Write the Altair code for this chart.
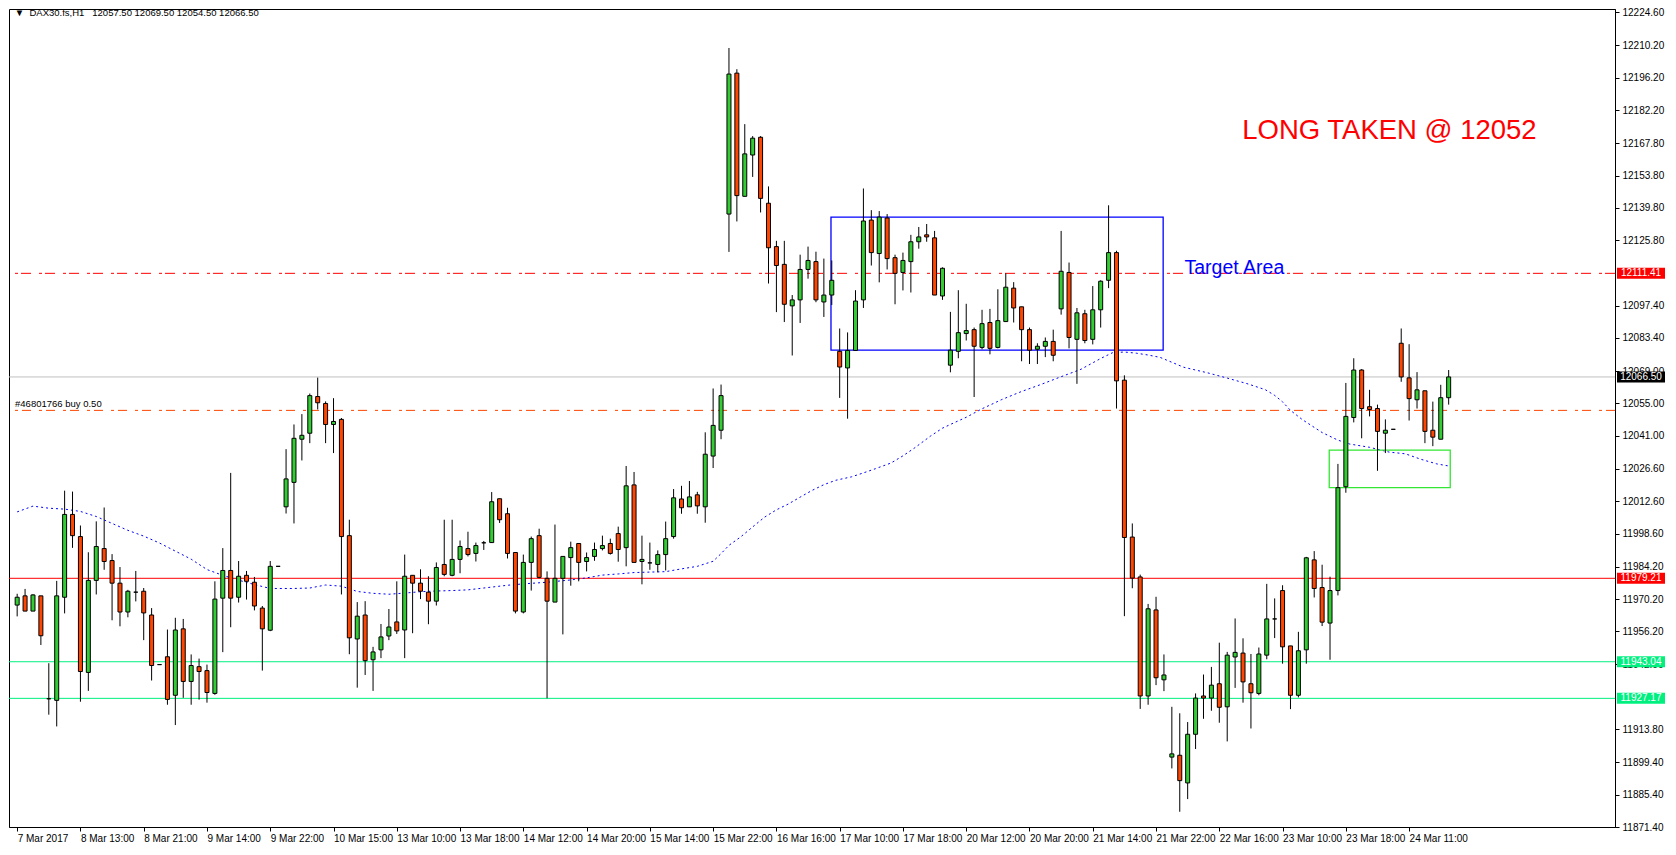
import altair as alt
import pandas as pd

# ---------------- data ----------------
opens = [
    11967.6, 11971.6, 11965.0, 11971.6, 11927.0, 11926.3, 11971.0, 12006.9, 11997.3, 11938.4,
    11978.3, 11992.1, 11986.9, 11977.1, 11964.6, 11973.2, 11973.6, 11963.3, 11941.8, 11945.2,
    11928.5, 11957.3, 11934.5, 11940.9, 11939.2, 11929.3, 11970.6, 11982.6, 11971.0, 11980.5,
    11977.5, 11966.3, 11956.7, 11984.4, 12010.2, 12020.8, 12039.5, 12042.1, 12058.0, 12055.0,
    12045.9, 12048.1, 11997.7, 11952.9, 11963.3, 11943.9, 11948.2, 11954.2, 11960.3, 11956.8,
    11980.5, 11977.1, 11973.2, 11969.3, 11985.2, 11980.5, 11987.4, 11992.1, 11990.0, 11994.6,
    11994.7, 12013.7, 12007.2, 11990.4, 11964.6, 11986.1, 11997.7, 11979.2, 11968.9, 11979.2,
    11988.2, 11994.3, 11986.5, 11988.7, 11992.1, 11994.3, 11998.6, 11992.5, 12019.7, 11986.5,
    11985.9, 11985.2, 11989.5, 11997.3, 12013.6, 12010.2, 12015.4, 12010.2, 12032.2, 12043.4,
    12137.1, 12198.2, 12144.8, 12162.7, 12170.4, 12141.8, 12123.0, 12115.3, 12097.3, 12099.9,
    12113.1, 12116.5, 12099.0, 12102.0, 12077.6, 12070.4, 12078.0, 12099.9, 12134.5, 12120.0,
    12135.4, 12118.2, 12111.8, 12116.5, 12125.1, 12128.1, 12126.8, 12101.6, 12071.6, 12077.6,
    12085.3, 12087.0, 12079.3, 12090.1, 12079.3, 12090.5, 12105.0, 12096.9, 12087.0, 12078.5,
    12079.8, 12081.9, 12096.0, 12111.8, 12082.8, 12093.9, 12082.8, 12095.6, 12108.4, 12120.4,
    12065.1, 11997.1, 11979.8, 11928.2, 11965.5, 11935.2, 11901.7, 11902.5, 11890.5, 11911.6,
    11928.2, 11927.3, 11933.5, 11923.5, 11945.1, 11946.8, 11933.5, 11929.3, 11945.9, 11961.6,
    11973.9, 11949.9, 11928.5, 11948.2, 11987.2, 11975.2, 11959.8, 11973.9, 12018.9, 12048.9,
    12069.5, 12053.6, 12052.8, 12042.1, 12043.8, 12081.1, 12066.1, 12056.6, 12060.5, 12043.4,
    12039.5, 12057.5,
]
highs = [
    11972.5, 11974.6, 11972.3, 11971.6, 11942.4, 11978.1, 12017.2, 12016.8, 12002.1, 11990.5,
    12003.9, 12009.9, 11989.7, 11984.1, 11974.2, 11982.4, 11975.0, 11966.3, 11941.8, 11957.0,
    11962.1, 11961.6, 11946.2, 11944.4, 11941.8, 11977.9, 11992.3, 12024.9, 11986.7, 11982.4,
    11979.8, 11967.2, 11986.7, 11984.4, 12035.2, 12045.9, 12050.4, 12059.3, 12066.2, 12055.9,
    12057.3, 12048.7, 12004.6, 11968.9, 11969.3, 11949.5, 11959.4, 11965.9, 11977.9, 11989.5,
    11980.5, 11983.1, 11980.1, 11986.1, 12004.6, 12004.6, 11995.6, 11999.4, 11994.7, 11995.4,
    12016.6, 12013.7, 12009.8, 11990.4, 11989.5, 11997.3, 12000.7, 11982.2, 12002.5, 11988.7,
    11995.1, 11994.3, 11990.4, 11994.7, 11997.7, 11996.4, 12001.6, 12027.9, 12025.3, 11997.7,
    11994.7, 11991.3, 12003.8, 12017.9, 12019.3, 12021.4, 12016.7, 12042.5, 12061.5, 12063.2,
    12209.1, 12199.9, 12176.1, 12170.9, 12170.9, 12149.1, 12125.5, 12125.5, 12102.0, 12119.5,
    12123.0, 12120.8, 12117.8, 12117.0, 12087.5, 12085.8, 12104.1, 12148.2, 12138.8, 12138.4,
    12137.1, 12119.5, 12120.4, 12128.1, 12131.5, 12132.8, 12129.8, 12114.0, 12094.7, 12104.1,
    12098.2, 12087.9, 12095.6, 12096.0, 12104.5, 12111.4, 12107.6, 12096.9, 12087.9, 12081.1,
    12083.6, 12087.0, 12129.8, 12116.1, 12096.4, 12095.6, 12105.9, 12108.4, 12140.9, 12121.2,
    12067.2, 12003.0, 11980.8, 11968.1, 11971.2, 11946.2, 11923.5, 11920.7, 11916.9, 11929.3,
    11937.5, 11940.8, 11951.3, 11947.3, 11961.8, 11953.2, 11946.4, 11949.2, 11976.8, 11970.5,
    11976.2, 11949.9, 11956.0, 11988.5, 11991.0, 11985.1, 11979.9, 12028.8, 12063.9, 12074.6,
    12069.9, 12060.9, 12054.5, 12048.1, 12043.8, 12087.5, 12080.7, 12068.6, 12060.5, 12055.8,
    12063.1, 12069.5,
]
lows = [
    11962.7, 11965.0, 11965.0, 11950.3, 11920.1, 11915.0, 11964.0, 11992.4, 11925.7, 11930.4,
    11972.2, 11982.9, 11961.0, 11958.4, 11962.3, 11969.2, 11952.4, 11934.9, 11941.8, 11924.4,
    11915.6, 11927.4, 11924.4, 11926.6, 11925.3, 11928.7, 11947.2, 11958.0, 11968.7, 11970.0,
    11965.3, 11939.2, 11956.3, 11984.4, 12007.3, 12003.0, 12030.3, 12037.8, 12052.4, 12037.8,
    12033.5, 11972.2, 11946.3, 11931.8, 11937.3, 11930.4, 11944.6, 11952.4, 11955.1, 11944.6,
    11955.4, 11970.2, 11959.3, 11967.4, 11980.1, 11980.1, 11981.4, 11988.7, 11986.5, 11991.5,
    11994.7, 12003.2, 11987.8, 11964.0, 11964.0, 11973.9, 11979.2, 11927.2, 11968.9, 11954.9,
    11976.0, 11977.9, 11982.2, 11986.8, 11991.3, 11989.5, 11986.4, 11984.4, 11986.1, 11976.6,
    11982.9, 11981.8, 11982.6, 11996.4, 12007.2, 12010.2, 12007.2, 12003.3, 12027.0, 12039.5,
    12120.7, 12133.9, 12144.8, 12153.2, 12137.8, 12107.0, 12094.6, 12090.3, 12075.8, 12089.9,
    12109.1, 12098.9, 12092.5, 12097.7, 12057.4, 12048.4, 12078.0, 12096.4, 12114.8, 12107.5,
    12113.1, 12098.0, 12104.0, 12103.1, 12122.1, 12125.1, 12102.0, 12099.9, 12068.5, 12074.6,
    12082.3, 12057.8, 12078.5, 12076.3, 12078.9, 12090.5, 12090.1, 12073.3, 12072.1, 12072.1,
    12075.1, 12073.3, 12093.5, 12078.9, 12063.5, 12081.1, 12080.6, 12087.9, 12105.0, 12052.8,
    11962.8, 11974.9, 11922.6, 11924.4, 11932.9, 11930.3, 11896.8, 11878.0, 11883.5, 11905.2,
    11918.3, 11921.8, 11916.6, 11908.5, 11931.7, 11925.3, 11914.1, 11928.5, 11944.1, 11953.3,
    11942.2, 11922.5, 11927.6, 11942.2, 11970.9, 11958.5, 11943.9, 11971.8, 12016.3, 12046.8,
    12039.9, 12049.4, 12025.8, 12033.5, 12043.8, 12064.4, 12047.6, 12052.8, 12037.8, 12036.5,
    12039.5, 12054.5,
]
closes = [
    11971.0, 11965.0, 11972.0, 11954.3, 11927.0, 11971.6, 12006.9, 11997.7, 11938.8, 11978.3,
    11993.0, 11986.5, 11977.1, 11964.6, 11973.6, 11973.2, 11964.2, 11941.4, 11941.8, 11926.7,
    11956.8, 11934.5, 11941.4, 11938.8, 11929.7, 11970.2, 11982.6, 11970.6, 11980.1, 11977.9,
    11967.2, 11957.3, 11984.4, 11984.4, 12022.3, 12039.9, 12041.2, 12058.4, 12055.3, 12045.9,
    12047.2, 11997.3, 11953.4, 11962.8, 11943.5, 11947.3, 11953.8, 11958.1, 11956.4, 11980.1,
    11977.1, 11973.6, 11969.3, 11983.9, 11980.9, 11987.4, 11993.0, 11989.5, 11993.4, 11994.6,
    12012.4, 12004.6, 11990.0, 11965.0, 11986.1, 11996.4, 11979.6, 11969.3, 11979.2, 11988.7,
    11992.5, 11986.1, 11988.2, 11991.7, 11993.4, 11990.0, 11991.7, 12019.3, 11986.1, 11987.4,
    11985.9, 11989.5, 11996.4, 12014.1, 12009.8, 12014.5, 12010.6, 12033.0, 12045.5, 12058.4,
    12197.8, 12145.1, 12163.2, 12170.0, 12143.9, 12122.5, 12114.8, 12098.0, 12099.9, 12113.1,
    12117.0, 12099.9, 12102.0, 12108.4, 12070.8, 12078.0, 12099.4, 12134.1, 12120.4, 12135.8,
    12117.8, 12111.4, 12117.0, 12125.1, 12127.2, 12127.2, 12102.0, 12113.6, 12078.1, 12085.7,
    12086.6, 12079.8, 12089.6, 12078.9, 12090.9, 12105.4, 12096.4, 12087.0, 12078.1, 12079.8,
    12081.9, 12075.9, 12112.3, 12083.6, 12094.3, 12082.3, 12095.6, 12108.0, 12120.4, 12064.8,
    11996.9, 11979.3, 11928.2, 11966.0, 11936.1, 11937.3, 11903.1, 11891.5, 11911.6, 11927.3,
    11927.3, 11932.9, 11923.3, 11945.9, 11947.1, 11934.3, 11929.6, 11946.4, 11961.6, 11961.6,
    11949.5, 11928.5, 11947.8, 11988.1, 11974.8, 11960.2, 11973.9, 12018.5, 12049.4, 12069.5,
    12052.8, 12052.4, 12042.9, 12043.4, 12043.8, 12066.5, 12057.1, 12060.9, 12042.9, 12040.4,
    12057.5, 12066.5,
]

# moving average (blue dotted) read at sample bars
ma_bars = [0, 2, 4, 6, 8, 10, 12, 14, 16, 18, 20, 22, 24, 26, 28, 30, 32,
           35, 37, 39, 41, 43, 45, 47, 49, 51, 53, 55, 57, 59,
           62, 64, 67, 70, 72, 74, 76, 78, 80, 82, 84, 86, 88, 89, 90,
           91.5, 93, 94.5, 96, 97.5, 99, 100.5, 102, 103.5, 105.5, 107, 108.5, 110.5, 112, 113.5, 115.5, 117, 118.5, 120,
           122, 124.5, 127, 129.5, 132, 134.5, 137, 138.5, 140, 141.5, 143, 144.5, 147.5, 150.5, 153, 155.5,
           157.8, 159, 160, 161, 162.5, 165, 167, 168.5, 171, 173.5, 175.5, 177.5, 179.5, 181]
ma_vals = [12008.0, 12010.5, 12009.6, 12009.2, 12008.2, 12006.0, 12003.0, 12000.0, 11997.5, 11994.5,
           11991.0, 11987.5, 11983.0, 11980.5, 11978.4, 11976.5, 11974.8,
           11974.8, 11975.0, 11976.3, 11975.8, 11973.5, 11972.7, 11972.3, 11972.8, 11973.4, 11973.7, 11973.9, 11974.2, 11975.0,
           11976.2, 11976.8, 11977.5, 11978.5, 11979.4, 11980.6, 11981.1, 11981.7, 11981.9, 11982.1, 11983.3, 11984.4, 11986.6, 11989.9, 11993.5,
           11997.2, 12001.5, 12005.7, 12008.9, 12011.4, 12014.4, 12017.3, 12019.8, 12021.7, 12023.2, 12024.9, 12026.7, 12029.2, 12032.3,
           12035.8, 12040.9, 12044.3, 12046.7, 12049.0,
           12052.7, 12056.7, 12060.2, 12063.3, 12066.6, 12069.8, 12074.5, 12077.0, 12077.3, 12076.8, 12076.0, 12075.0, 12070.7, 12068.3,
           12066.0, 12063.6, 12061.0, 12058.5, 12055.7, 12052.0, 12048.0, 12042.4, 12039.1, 12037.4, 12036.0, 12033.9, 12033.2,
           12030.8, 12028.8, 12027.9]

x_labels = ["7 Mar 2017", "8 Mar 13:00", "8 Mar 21:00", "9 Mar 14:00", "9 Mar 22:00", "10 Mar 15:00",
            "13 Mar 10:00", "13 Mar 18:00", "14 Mar 12:00", "14 Mar 20:00", "15 Mar 14:00", "15 Mar 22:00",
            "16 Mar 16:00", "17 Mar 10:00", "17 Mar 18:00", "20 Mar 12:00", "20 Mar 20:00", "21 Mar 14:00",
            "21 Mar 22:00", "22 Mar 16:00", "23 Mar 10:00", "23 Mar 18:00", "24 Mar 11:00"]
x_tick_bars = list(range(0, 8 * len(x_labels), 8))

y_ticks = [12224.60, 12210.20, 12196.20, 12182.20, 12167.80, 12153.80, 12139.80, 12125.80,
           12097.40, 12083.40, 12069.00, 12055.00, 12041.00, 12026.60, 12012.60, 11998.60,
           11984.20, 11970.20, 11956.20, 11942.00, 11913.80, 11899.40, 11885.40, 11871.40]

# horizontal levels
hl_prices = [12111.41, 12066.50, 12052.00, 11979.21, 11943.04, 11927.17]
hl_colors = ["#FF0000", "#C0C0C0", "#FF4500", "#FF0000", "#00F080", "#00F080"]
hl_dashes = [[10, 3, 3, 8], None, [9, 4, 3, 8], None, None, None]

# axis badges
badge_prices = [12111.41, 12066.50, 11979.21, 11943.04, 11927.17]
badge_colors = ["#FF0000", "#000000", "#FF0000", "#00F080", "#00F080"]

# boxes (bar units / prices)
box_x1 = [102.9, 165.9]
box_x2 = [144.9, 181.2]
box_top = [12135.8, 12034.8]
box_bot = [12078.1, 12018.5]
box_colors = ["#0000FF", "#33E633"]

# ---------------- chart ----------------
W, H = 1606, 818
xs = alt.Scale(domain=[-0.4, 201.4], nice=False, zero=False)
ys = alt.Scale(domain=[11871.4, 12226.0], nice=False, zero=False)

label_js = "[" + ",".join("'%s'" % s for s in x_labels) + "]"
x_axis = alt.Axis(values=x_tick_bars, labelExpr=label_js + "[round(datum.value/8)]", title=None,
                  orient="bottom", labelAlign="left", labelPadding=2,
                  labelFont="Liberation Sans", labelFontSize=10,
                  labelColor="black", tickColor="black", tickSize=4, domainColor="black",
                  grid=False, labelFlush=False, labelOverlap=False)
y_axis = alt.Axis(values=y_ticks, format=".2f", title=None, orient="right",
                  labelFont="Liberation Sans", labelFontSize=10, labelColor="black",
                  tickColor="black", tickSize=4, labelPadding=3, domainColor="black",
                  grid=False, labelFlush=False, labelOverlap=False)

df = pd.DataFrame({"bar": list(range(len(opens))), "open": opens, "high": highs,
                   "low": lows, "close": closes})
df["dir"] = ["up" if c >= o else "down" for o, c in zip(opens, closes)]

X = alt.X("bar:Q", scale=xs, axis=x_axis)

wicks = alt.Chart(df).mark_rule(color="black", strokeWidth=1).encode(
    x=X, y=alt.Y("low:Q", scale=ys, axis=y_axis), y2="high:Q")
bodies = alt.Chart(df).mark_bar(size=4, stroke="black", strokeWidth=1).encode(
    x=X, y=alt.Y("open:Q", scale=ys, axis=y_axis), y2="close:Q",
    color=alt.Color("dir:N", scale=alt.Scale(domain=["up", "down"], range=["#32CD32", "#FF4500"]), legend=None))

ma_df = pd.DataFrame({"bar": ma_bars, "ma": ma_vals})
ma = alt.Chart(ma_df).mark_line(color="#0000FF", strokeWidth=1, strokeDash=[2, 3]).encode(
    x=X, y=alt.Y("ma:Q", scale=ys, axis=y_axis))

hlines = []
for p, c, d in zip(hl_prices, hl_colors, hl_dashes):
    kw = dict(color=c, strokeWidth=1)
    if d is not None:
        kw["strokeDash"] = d
    hlines.append(alt.Chart(pd.DataFrame({"price": [p]})).mark_rule(**kw).encode(
        y=alt.Y("price:Q", scale=ys, axis=y_axis)))

boxes = []
for x1, x2, t, b, c in zip(box_x1, box_x2, box_top, box_bot, box_colors):
    boxes.append(alt.Chart(pd.DataFrame({"x1": [x1], "x2": [x2], "t": [t], "b": [b]})).mark_rect(
        fillOpacity=0, stroke=c, strokeWidth=1.3).encode(
        x=alt.X("x1:Q", scale=xs, axis=x_axis), x2="x2:Q",
        y=alt.Y("t:Q", scale=ys, axis=y_axis), y2="b:Q"))

def text_layer(bar, price, label, size, color, font="Liberation Sans"):
    return alt.Chart(pd.DataFrame({"bar": [bar], "price": [price], "label": [label]})).mark_text(
        align="left", baseline="middle", font=font, fontSize=size, color=color).encode(
        x=alt.X("bar:Q", scale=xs, axis=x_axis), y=alt.Y("price:Q", scale=ys, axis=y_axis), text="label:N")

texts = [
    text_layer(-0.3, 12224.3, "\u25BC\u00a0 DAX30.fs,H1\u00a0\u00a0 12057.50 12069.50 12054.50 12066.50", 9.5, "black"),
    text_layer(-0.27, 12054.8, "#46801766 buy 0.50", 9.5, "black"),
    text_layer(154.9, 12173.3, "LONG TAKEN @ 12052", 27.5, "#FF0000"),
    text_layer(147.6, 12113.9, "Target Area", 19.5, "#0000FF"),
]

badge_df = pd.DataFrame({"price": badge_prices, "col": badge_colors,
                         "lab": ["%.2f" % v for v in badge_prices]})
badges = alt.Chart(badge_df).mark_point(
    shape="M-1,-0.23H1V0.23H-1Z", size=2304, filled=True, opacity=1, strokeWidth=0).encode(
    x=alt.value(W + 26), y=alt.Y("price:Q", scale=ys, axis=y_axis),
    color=alt.Color("col:N", scale=None))
badge_txt = alt.Chart(badge_df).mark_text(
    color="white", font="Liberation Sans", fontSize=10, align="center", baseline="middle").encode(
    x=alt.value(W + 26), y=alt.Y("price:Q", scale=ys, axis=y_axis), text="lab:N")

chart = alt.layer(*hlines, ma, *boxes, wicks, bodies, *texts, badges, badge_txt).properties(
    width=W, height=H,
    autosize=alt.AutoSizeParams(type="none"),
    padding={"left": 1, "top": 1, "right": 52, "bottom": 17},
    background="white",
).configure_view(stroke="black", strokeWidth=1)

chart.save("out.html", embed_options={"renderer": "svg", "actions": False})
